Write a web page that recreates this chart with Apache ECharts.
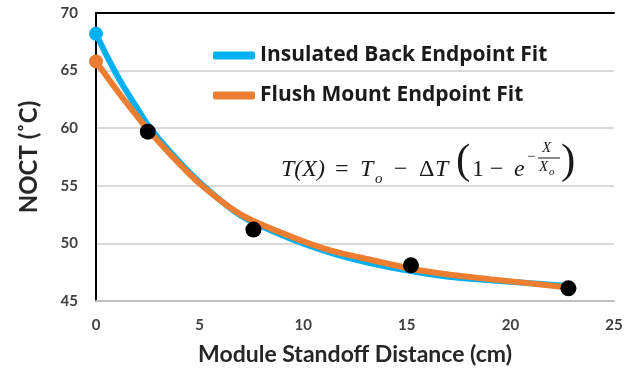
<!DOCTYPE html>
<html>
<head>
<meta charset="utf-8">
<script src="https://cdn.jsdelivr.net/npm/echarts@6/dist/echarts.min.js"></script>
<style>
  html, body { margin: 0; padding: 0; background: #fff; }
  #chart { width: 628px; height: 379px; }
</style>
</head>
<body>
<div id="chart"></div>
<script>
// fit curves
var insulatedX = [0, 0.6, 1.3, 2.0, 2.5, 3.5, 5, 7, 9.4, 11.3, 13.2, 15.2, 17, 19, 22.8];
var insulatedY = [68.2, 66.0, 63.7, 61.7, 60.3, 58.1, 55.3, 52.4, 50.4, 49.2, 48.3, 47.6, 47.1, 46.8, 46.3];
var flushX = [0, 0.6, 1.3, 2.0, 2.5, 3.5, 5, 7, 9.4, 11.3, 13.2, 15.2, 17, 19, 22.7];
var flushY = [65.8, 64.3, 62.6, 61.0, 59.9, 57.9, 55.2, 52.5, 50.6, 49.4, 48.6, 47.8, 47.3, 46.9, 46.2];
// measured points
var measuredX = [2.5, 7.6, 15.2, 22.8];
var measuredY = [59.7, 51.2, 48.1, 46.1];

var xTicks = [0, 5, 10, 15, 20, 25];
var yTicks = [45, 50, 55, 60, 65, 70];

function pairs(xs, ys) {
    var out = [];
    for (var i = 0; i < xs.length; i++) out.push([xs[i], ys[i]]);
    return out;
}

var myChart = echarts.init(document.getElementById('chart'));

var labelFont = { fontFamily: 'Lato', fontWeight: 'bold', fontSize: 15, color: '#404040' };
var nameFont = { fontFamily: 'Lato', fontWeight: 'bold', fontSize: 23, color: '#262626' };
var mathFont = 'Liberation Serif';
var ink = '#1a1a1a';

function t(x, y, text, size, italic) {
    return {
        type: 'text', x: x, y: y,
        style: { text: text, fontFamily: mathFont, fontSize: size, fontStyle: italic ? 'italic' : 'normal', fill: ink }
    };
}

// start dot only, the rest of the curve has no marker
var startDot = function (val, params) { return params.dataIndex === 0 ? 14 : 0; };

var option = {
    animation: false,
    grid: { left: 96, right: 14, top: 13, bottom: 78 },
    legend: {
        orient: 'vertical',
        left: 208,
        top: 40,
        itemGap: 19,
        itemWidth: 42,
        itemHeight: 8,
        icon: 'roundRect',
        textStyle: { fontFamily: 'Open Sans', fontWeight: 'bold', fontSize: 21, color: '#1a1a1a' },
        data: ['Insulated Back Endpoint Fit', 'Flush Mount Endpoint Fit']
    },
    xAxis: [
        {
            type: 'value',
            min: xTicks[0],
            max: xTicks[xTicks.length - 1],
            interval: 5,
            name: 'Module Standoff Distance (cm)',
            nameLocation: 'middle',
            nameGap: 42,
            nameTextStyle: nameFont,
            axisLine: { lineStyle: { color: '#bfbfbf', width: 2 } },
            axisTick: { show: false },
            splitLine: { show: false },
            axisLabel: Object.assign({ margin: 17 }, labelFont)
        },
        {
            type: 'value',
            position: 'top',
            min: 0,
            max: 25,
            axisLine: { show: true, lineStyle: { color: '#000', width: 2 } },
            axisTick: { show: false },
            axisLabel: { show: false },
            splitLine: { show: false }
        }
    ],
    yAxis: [
        {
            type: 'value',
            min: yTicks[0],
            max: yTicks[yTicks.length - 1],
            interval: 5,
            name: 'NOCT (˚C)',
            nameLocation: 'middle',
            nameGap: 55,
            nameRotate: 90,
            nameTextStyle: Object.assign({}, nameFont, { fontSize: 24 }),
            axisLine: { show: true, lineStyle: { color: '#bfbfbf', width: 2 } },
            axisTick: { show: false },
            splitLine: { lineStyle: { color: '#d9d9d9', width: 2 } },
            axisLabel: Object.assign({ margin: 18 }, labelFont)
        },
        {
            type: 'value',
            position: 'right',
            min: 45,
            max: 70,
            axisLine: { show: true, lineStyle: { color: '#000', width: 2 } },
            axisTick: { show: false },
            axisLabel: { show: false },
            splitLine: { show: false }
        }
    ],
    series: [
        {
            name: 'Insulated Back Endpoint Fit',
            type: 'line',
            smooth: 0.3,
            data: pairs(insulatedX, insulatedY),
            lineStyle: { color: '#00b0f0', width: 6 },
            itemStyle: { color: '#00b0f0' },
            symbol: 'circle',
            symbolSize: startDot,
            showSymbol: true,
            showAllSymbol: true,
            z: 2
        },
        {
            name: 'Flush Mount Endpoint Fit',
            type: 'line',
            smooth: 0.3,
            data: pairs(flushX, flushY),
            lineStyle: { color: '#ed7d31', width: 6 },
            itemStyle: { color: '#ed7d31' },
            symbol: 'circle',
            symbolSize: startDot,
            showSymbol: true,
            showAllSymbol: true,
            z: 3
        },
        {
            name: 'Measured',
            type: 'scatter',
            data: pairs(measuredX, measuredY),
            symbolSize: 16,
            itemStyle: { color: '#000', opacity: 1 },
            z: 4
        }
    ],
    // T(X) = To - dT (1 - e^(-X/Xo))
    graphic: [
        {
            type: 'group',
            left: 281,
            top: 140,
            children: [
                t(0, 16, 'T(X)', 24, true),
                t(54, 16, '=', 24, false),
                t(79, 16, 'T', 24, true),
                t(94, 30, 'o', 15, true),
                t(113, 16, '−', 24, false),
                t(138, 16, 'Δ', 24, false),
                t(154, 16, 'T', 24, true),
                t(175, -2, '(', 43, false),
                t(191, 16, '1', 24, false),
                t(209, 16, '−', 24, false),
                t(233, 16, 'e', 24, true),
                t(246, 8, '−', 15, false),
                t(261, -1, 'X', 15, true),
                {
                    type: 'line',
                    shape: { x1: 257, y1: 16, x2: 279, y2: 16 },
                    style: { stroke: ink, lineWidth: 1 }
                },
                t(258, 18, 'X', 15, true),
                t(268, 25, 'o', 11, true),
                t(280, -2, ')', 43, false)
            ]
        }
    ]
};

option && myChart.setOption(option);
</script>
</body>
</html>
